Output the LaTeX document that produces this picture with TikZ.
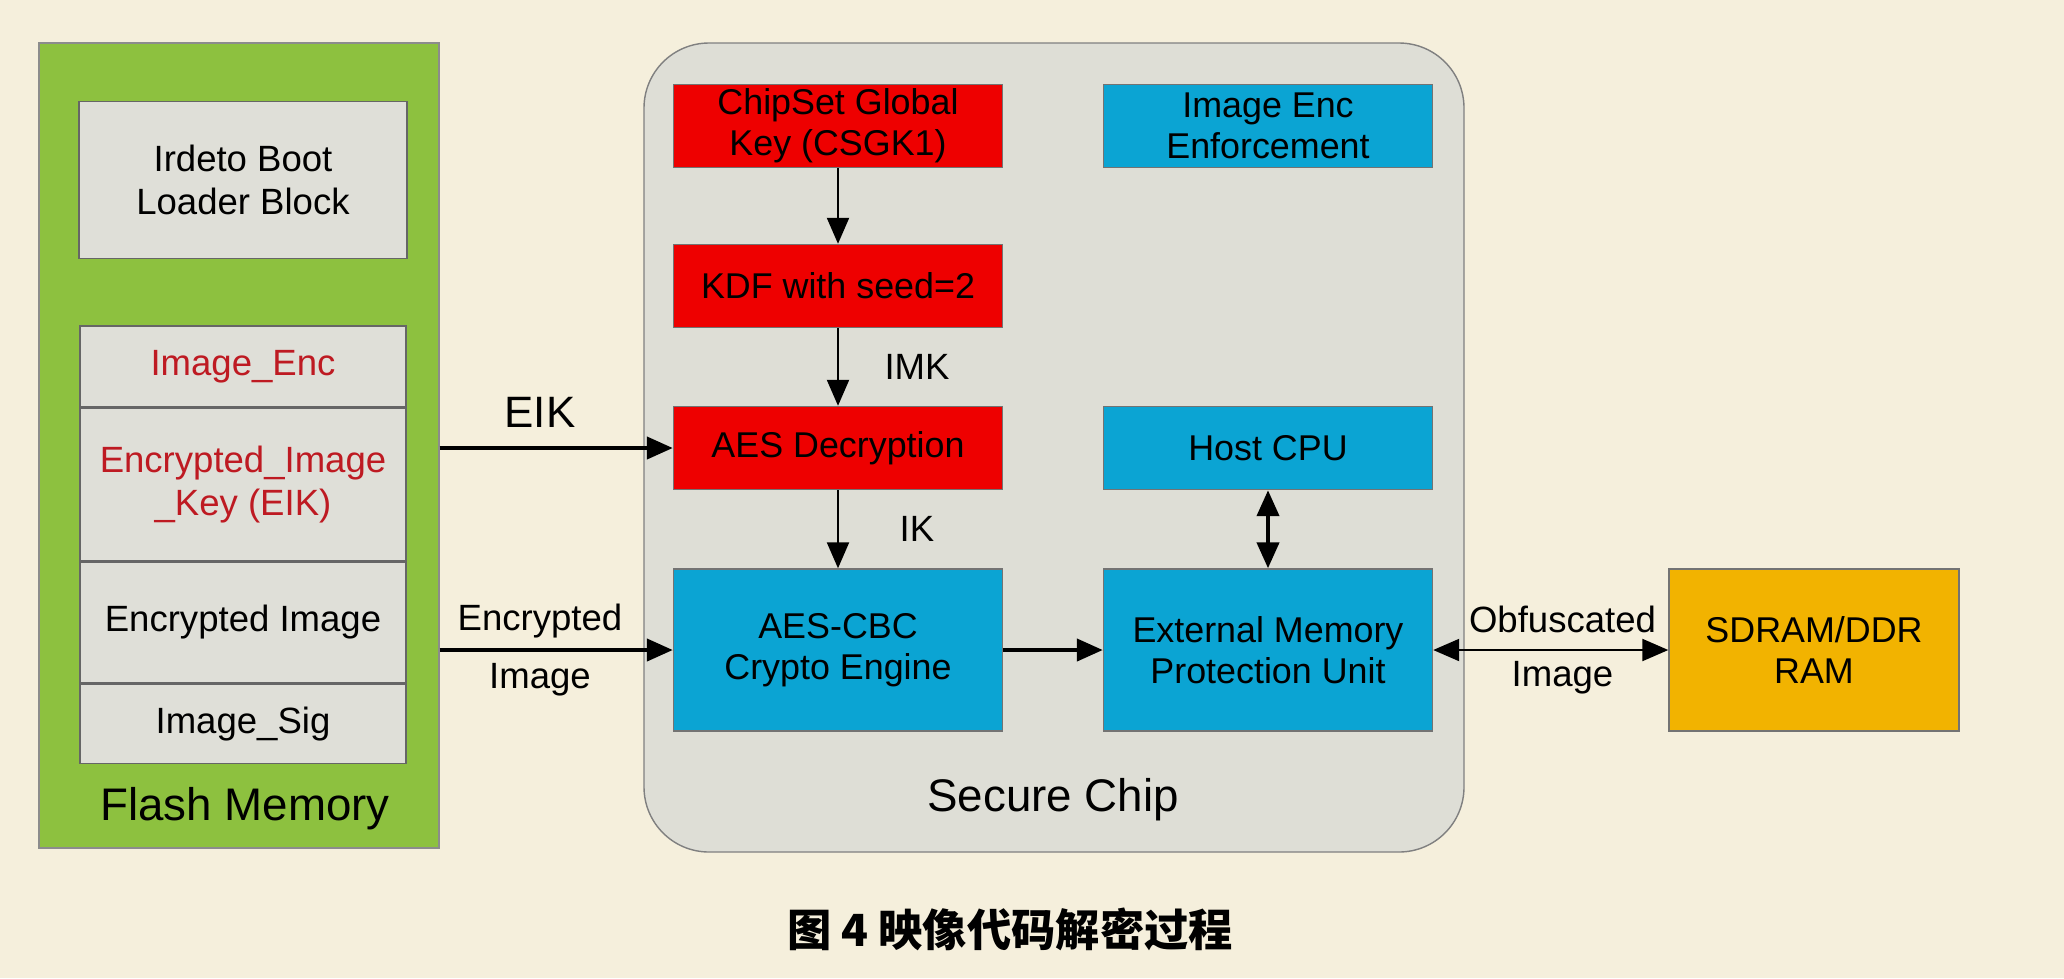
\documentclass[tikz,border=0pt]{standalone}
\usepackage{fontspec}
\setmainfont{Liberation Sans}
\newfontfamily\cjk{Noto Sans CJK SC}
\usepackage{xcolor}
\usetikzlibrary{positioning,arrows.meta}
\definecolor{paper}{HTML}{F5EFDC}
\definecolor{flashgreen}{HTML}{8DC13F}
\definecolor{cellgray}{HTML}{DFDFD8}
\definecolor{chipgray}{HTML}{DEDED6}
\definecolor{keyred}{HTML}{EE0000}
\definecolor{unitblue}{HTML}{0BA4D3}
\definecolor{ramorange}{HTML}{F2B300}
\definecolor{fieldred}{HTML}{BE1A22}

\begin{document}
\begin{tikzpicture}[node distance=1.6cm, >={Triangle[length=2.6mm,width=2.2mm]},
  txt/.style={font=\fontsize{10.4}{12.3}\selectfont, align=center},
  unit/.style={txt, font=\fontsize{10.2}{11.6}\selectfont, draw=black!55, rectangle, inner sep=0pt, minimum width=3.29cm, minimum height=0.83cm},
  redunit/.style={unit, fill=keyred},
  blueunit/.style={unit, fill=unitblue},
  cell/.style={txt, draw=black!60, fill=cellgray, rectangle, minimum width=3.26cm},
  bold/.style={line width=1.2pt}]
  \useasboundingbox[fill=paper] (0,0) rectangle (20.64,-9.78);

  \node (flash) [draw=black!45, fill=flashgreen, rectangle, minimum width=4cm, minimum height=8.05cm] at (2.39,-4.455) {};
  \node (chip) [draw=black!50, fill=chipgray, rounded corners=0.65cm, minimum width=8.2cm, minimum height=8.09cm] at (10.54,-4.475) {};

  \node (irdeto) [cell, minimum width=3.28cm, minimum height=1.57cm] at (2.43,-1.80) {Irdeto Boot\\Loader Block};
  \node (imgenc) [cell, minimum height=0.81cm, text=fieldred] at (2.43,-3.665) {Image\_Enc};
  \node (eik) [cell, below=0cm of imgenc, minimum height=1.52cm, text=fieldred] {Encrypted\_Image\\\_Key (EIK)};
  \node (encimg) [cell, below=0cm of eik, minimum height=1.21cm] {Encrypted Image};
  \node (imgsig) [cell, below=0cm of encimg, minimum height=0.79cm] {Image\_Sig};
  \node (flashlabel) [font=\fontsize{13}{15}\selectfont] at (2.45,-8.09) {Flash Memory};

  \node (csgk) [redunit] at (8.38,-1.26) {ChipSet Global\\Key (CSGK1)};
  \node (kdf) [redunit, below of=csgk] {KDF with seed=2};
  \node (aesdec) [redunit, below of=kdf, node distance=1.62cm] {AES Decryption};
  \node (aescbc) [blueunit, below of=aesdec, node distance=2.02cm, minimum height=1.62cm] {AES-CBC\\Crypto Engine};
  \node (enforce) [blueunit, right of=csgk, node distance=4.3cm] {Image Enc\\Enforcement};
  \node (hostcpu) [blueunit, right of=aesdec, node distance=4.3cm] {Host CPU};
  \node (empu) [blueunit, right of=aescbc, node distance=4.3cm, minimum height=1.62cm] {External Memory\\Protection Unit};
  \node (sdram) [unit, fill=ramorange, right of=empu, node distance=5.46cm, minimum width=2.9cm, minimum height=1.62cm] {SDRAM/DDR\\RAM};
  \node (chiplabel) [font=\fontsize{13}{15}\selectfont] at (10.53,-8.00) {Secure Chip};

  \draw[->, semithick] (csgk) -- (kdf);
  \draw[->, semithick] (kdf) -- node[txt, xshift=0.79cm] {IMK} (aesdec);
  \draw[->, semithick] (aesdec) -- node[txt, xshift=0.79cm] {IK} (aescbc);
  \draw[->, bold] (flash.east |- aesdec.west) -- node[pos=0.43, yshift=0.36cm, font=\fontsize{12.5}{15}\selectfont] {EIK} (aesdec.west);
  \draw[->, bold] (flash.east |- aescbc.west) -- node[txt, pos=0.43, yshift=0.29cm] {Encrypted} node[txt, pos=0.43, yshift=-0.3cm] {Image} (aescbc.west);
  \draw[->, bold] (aescbc) -- (empu);
  \draw[<->, bold] (hostcpu) -- (empu);
  \draw[<->, semithick] (empu) -- node[txt, pos=0.55, yshift=0.31cm] {Obfuscated} node[txt, pos=0.55, yshift=-0.28cm] {Image} (sdram);

  \node (caption) [font=\cjk\bfseries\fontsize{12.6}{15}\selectfont] at (10.10,-9.29) {图 4 映像代码解密过程};
\end{tikzpicture}
\end{document}
